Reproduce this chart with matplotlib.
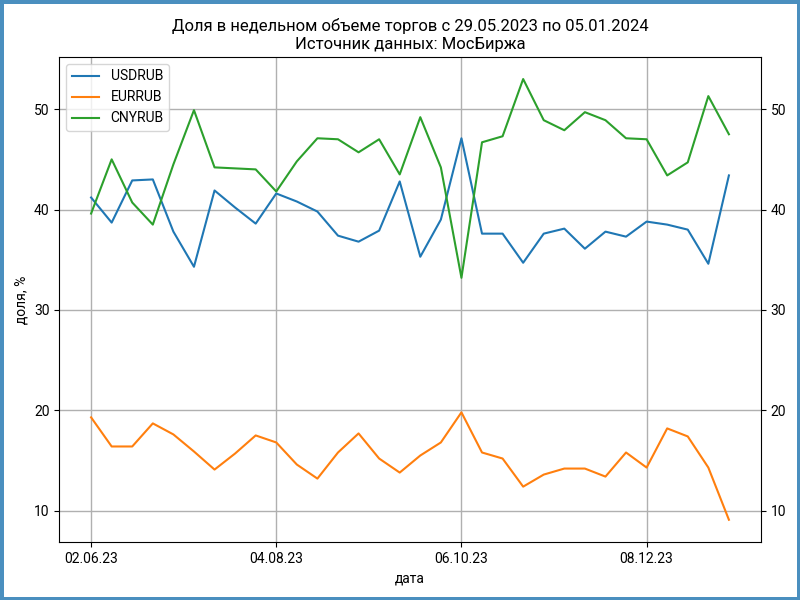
import pandas as pd
import matplotlib
matplotlib.use("Agg")
import matplotlib.pyplot as plt

plt.rcParams["font.family"] = ["Roboto", "DejaVu Sans"]

# ── data (weekly shares, %) ───────────────────────────────────────────────────
dates = pd.date_range("2023-06-02", periods=32, freq="7D")

usdrub = [41.2, 38.7, 42.9, 43.0, 37.8, 34.3, 41.9, 40.2, 38.6, 41.6,
          40.8, 39.8, 37.4, 36.8, 37.9, 42.8, 35.3, 39.0, 47.1, 37.6,
          37.6, 34.7, 37.6, 38.1, 36.1, 37.8, 37.3, 38.8, 38.5, 38.0,
          34.6, 43.4]
eurrub = [19.3, 16.4, 16.4, 18.7, 17.6, 15.9, 14.1, 15.7, 17.5, 16.8,
          14.6, 13.2, 15.8, 17.7, 15.2, 13.8, 15.5, 16.8, 19.8, 15.8,
          15.2, 12.4, 13.6, 14.2, 14.2, 13.4, 15.8, 14.3, 18.2, 17.4,
          14.3, 9.1]
cnyrub = [39.6, 45.0, 40.7, 38.5, 44.5, 49.9, 44.2, 44.1, 44.0, 41.8,
          44.8, 47.1, 47.0, 45.7, 47.0, 43.5, 49.2, 44.2, 33.2, 46.7,
          47.3, 53.0, 48.9, 47.9, 49.7, 48.9, 47.1, 47.0, 43.4, 44.7,
          51.3, 47.5]

tick_dates = dates[::9]
tick_labels = [d.strftime("%d.%m.%y") for d in tick_dates]

# ── figure ───────────────────────────────────────────────────────────────────
fig, ax = plt.subplots(figsize=(8, 6), dpi=100)
fig.patch.set_edgecolor("#4a8fbf")
fig.patch.set_linewidth(5)
fig.subplots_adjust(left=0.074, right=0.951, top=0.905, bottom=0.097)

ax.plot(dates, usdrub, color="#1f77b4", lw=1.5, label="USDRUB")
ax.plot(dates, eurrub, color="#ff7f0e", lw=1.5, label="EURRUB")
ax.plot(dates, cnyrub, color="#2ca02c", lw=1.5, label="CNYRUB")

ax.set_xticks(tick_dates)
ax.set_xticklabels(tick_labels)
ax.set_yticks([10, 20, 30, 40, 50])
ax.tick_params(labelright=True, right=True)
ax.grid(True, color="#b0b0b0", lw=1)

ax.set_xlabel("дата")
ax.set_ylabel("доля, %")
ax.set_title("Доля в недельном объеме торгов с 29.05.2023 по 05.01.2024\n"
             "Источник данных: МосБиржа", fontsize=12)
ax.legend(loc="upper left")

plt.savefig("out.png", dpi=100, edgecolor=fig.get_edgecolor())
